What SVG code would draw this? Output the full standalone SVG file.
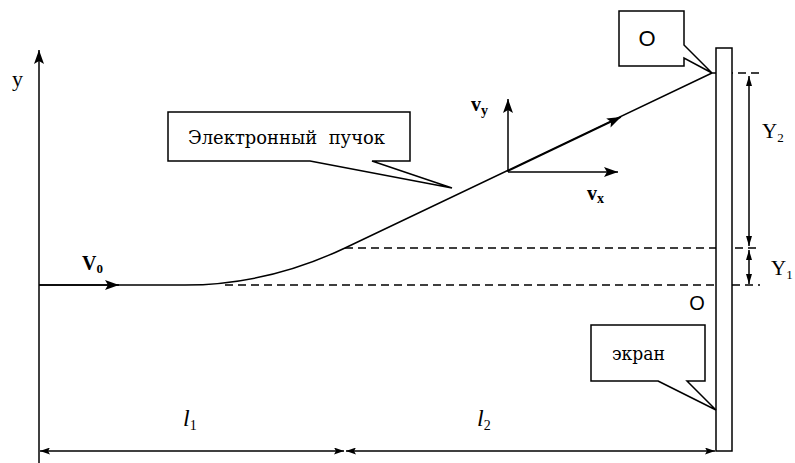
<svg xmlns="http://www.w3.org/2000/svg" width="795" height="463" viewBox="0 0 795 463">
<style>
.ln{stroke:#000;stroke-width:1.5;fill:none}
.dash{stroke:#000;stroke-width:1.3;fill:none;stroke-dasharray:8 5}
.box{stroke:#000;stroke-width:1.5;fill:#fff}
.t{font-family:"Liberation Serif","Times New Roman",serif;fill:#000}
.c{font-family:"DejaVu Serif","Liberation Serif","Times New Roman",serif;fill:#000}
.s{font-family:"Liberation Sans",Arial,sans-serif;fill:#000}
.b{font-weight:bold}
</style>
<defs>
<marker id="ah" viewBox="0 0 14 10" refX="14" refY="5" markerWidth="14" markerHeight="10" markerUnits="userSpaceOnUse" orient="auto-start-reverse">
<path d="M0,0 L14,5 L0,10 L3,5 Z" fill="#000"/>
</marker>
<marker id="ahs" viewBox="0 0 10 7" refX="10" refY="3.5" markerWidth="10" markerHeight="7" markerUnits="userSpaceOnUse" orient="auto-start-reverse">
<path d="M0,0 L10,3.5 L0,7 L2,3.5 Z" fill="#000"/>
</marker>
<marker id="an" viewBox="0 0 10 6" refX="10" refY="3" markerWidth="10" markerHeight="6" markerUnits="userSpaceOnUse" orient="auto-start-reverse">
<path d="M0,0 L10,3 L0,6 Z" fill="#000"/>
</marker>
</defs>

<g id="connectors">
<path class="dash" d="M225,285 H760"/>
<path class="dash" d="M345,248 H760"/>
<path class="dash" d="M712,73 H760"/>
<line class="ln" x1="39" y1="463" x2="39" y2="50" marker-end="url(#ah)"/>
<path class="ln" d="M39,285 H185 Q267,285 345,248 L712,73"/>
<line class="ln" x1="39" y1="285" x2="119" y2="285" marker-end="url(#ah)"/>
<line class="ln" x1="508" y1="171" x2="621" y2="117" marker-end="url(#ah)"/>
<line class="ln" x1="508" y1="172" x2="508" y2="99" marker-end="url(#ah)"/>
<line class="ln" x1="508" y1="172" x2="618" y2="172" marker-end="url(#ah)"/>
<line class="ln" x1="749" y1="76" x2="749" y2="246" marker-start="url(#an)" marker-end="url(#an)"/>
<line class="ln" x1="749" y1="250" x2="749" y2="284" marker-start="url(#an)" marker-end="url(#an)"/>
<line class="ln" x1="40" y1="451" x2="344" y2="451" marker-start="url(#ahs)" marker-end="url(#ahs)"/>
<line class="ln" x1="346" y1="451" x2="715" y2="451" marker-start="url(#ahs)" marker-end="url(#ahs)"/>
</g>

<g id="screen">
<rect class="box" x="716" y="48" width="16" height="403"/>
</g>

<g id="callout-O">
<path class="box" d="M684,45 L712,73 L684,58 V66 H619 V11 H684 Z"/>
<text class="s" x="647" y="46" font-size="22" text-anchor="middle">O</text>
</g>

<g id="callout-beam">
<path class="box" d="M310,161 L452,188 L372,161 H410 V112 H168 V161 Z"/>
<text class="c" x="188" y="144" font-size="19" textLength="197" lengthAdjust="spacingAndGlyphs" xml:space="preserve">Электронный  пучок</text>
</g>

<g id="callout-screen">
<path class="box" d="M658,381 L716,410 L687,381 H705 V325 H591 V381 Z"/>
<text class="c" x="612" y="360" font-size="19" textLength="53" lengthAdjust="spacingAndGlyphs">экран</text>
</g>

<g id="labels">
<text class="t" x="12" y="86" font-size="22">y</text>
<text class="t b" x="82" y="270" font-size="20">V<tspan font-size="13" dy="3">0</tspan></text>
<text class="t b" x="471" y="111" font-size="20">v<tspan font-size="14" dy="4">y</tspan></text>
<text class="t b" x="587" y="200" font-size="20">v<tspan font-size="14" dy="3">x</tspan></text>
<text class="t" x="762" y="138" font-size="21">Y<tspan font-size="13" dy="4">2</tspan></text>
<text class="t" x="771" y="275" font-size="21">Y<tspan font-size="13" dy="4">1</tspan></text>
<text class="s" x="697" y="310" font-size="20" text-anchor="middle">O</text>
<text class="t" x="183" y="426" font-size="24" font-style="italic">l<tspan font-size="14" dy="4" font-style="normal">1</tspan></text>
<text class="t" x="477" y="426" font-size="24" font-style="italic">l<tspan font-size="14" dy="4" font-style="normal">2</tspan></text>
</g>
</svg>
